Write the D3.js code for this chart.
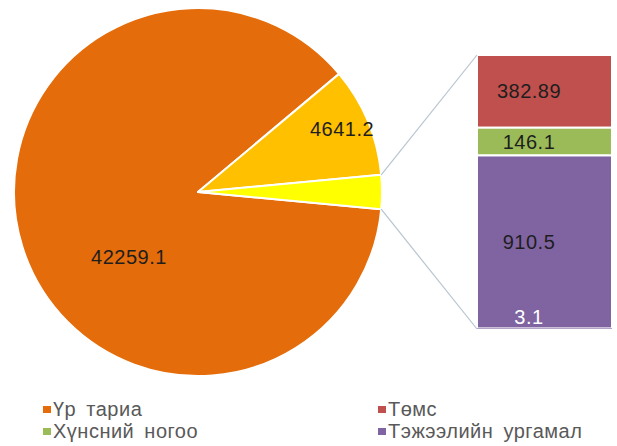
<!DOCTYPE html>
<html>
<head>
<meta charset="utf-8">
<script src="https://cdn.jsdelivr.net/npm/d3@7"></script>
<style>
  body { margin: 0; background: #fff; }
  text { font-family: "Liberation Sans", Arial, sans-serif; letter-spacing: 0.5px; }
</style>
</head>
<body>
<script>
// main pie: two big slices, the rest goes into "other"
var pieNames = ["Үр тариа", "other A", "other"];
var pieValues = [42259.1, 4641.2];
// secondary bar (the "other" slice split up)
var barNames = ["Төмс", "Хүнсний ногоо", "Тэжээлийн ургамал", "бусад"];
var barValues = [382.89, 146.1, 910.5, 3.1];
var legendNames = ["Үр тариа", "Төмс", "Хүнсний ногоо", "Тэжээлийн ургамал"];

var pieColors = ["#e46c0a", "#ffc000", "#ffff00"];
var barColors = ["#c0504d", "#9bbb59", "#8064a2", "#8064a2"];
var legendColors = ["#e46c0a", "#c0504d", "#9bbb59", "#8064a2"];

var width = 617, height = 446;
var cx = 198, cy = 192, r = 184;

var svg = d3.select("body").append("svg")
    .attr("width", width)
    .attr("height", height);

var otherTotal = d3.sum(barValues);
var slices = pieValues.concat([otherTotal]);
var total = d3.sum(slices);
var otherSpan = otherTotal / total * 2 * Math.PI;

// "other" slice centred on 3 o'clock
var pie = d3.pie()
    .sort(null)
    .startAngle(Math.PI / 2 + otherSpan / 2)
    .endAngle(Math.PI / 2 + otherSpan / 2 + 2 * Math.PI);

var arcs = pie(slices);
var arc = d3.arc().innerRadius(0).outerRadius(r);

var pieG = svg.append("g")
    .attr("transform", "translate(" + cx + "," + cy + ")");

pieG.selectAll("path")
    .data(arcs)
    .join("path")
    .attr("d", arc)
    .attr("fill", (d, i) => pieColors[i])
    .attr("stroke", "#fff")
    .attr("stroke-width", 2)
    .attr("stroke-linejoin", "round");

// pie labels
var pieLabelPos = [[-69, 65], [144, -63]];
pieG.selectAll("text.lab")
    .data(arcs.slice(0, 2))
    .join("text")
    .attr("class", "lab")
    .attr("x", (d, i) => pieLabelPos[i][0])
    .attr("y", (d, i) => pieLabelPos[i][1])
    .attr("text-anchor", "middle")
    .attr("dy", "0.35em")
    .attr("font-size", 20)
    .attr("fill", "#1e1e1e")
    .text(d => d3.format(".1f")(d.data));

// secondary stacked bar
var barX = 477, barW = 135;
var y = d3.scaleLinear()
    .domain([0, otherTotal])
    .range([55, 329]);

var cum = 0;
var segs = barValues.map(function (v, i) {
    var s = { name: barNames[i], value: v, y0: cum, y1: cum + v, i: i };
    cum += v;
    return s;
});

svg.append("g").selectAll("rect")
    .data(segs)
    .join("rect")
    .attr("x", barX)
    .attr("y", d => y(d.y0))
    .attr("width", barW)
    .attr("height", d => y(d.y1) - y(d.y0))
    .attr("fill", d => barColors[d.i])
    .attr("stroke", "#fff")
    .attr("stroke-width", d => d.i < 3 ? 2 : 0);

svg.append("g").selectAll("text")
    .data(segs)
    .join("text")
    .attr("x", barX + 52)
    .attr("y", d => d.i === 3 ? y(d.y0) - 11 : (y(d.y0) + y(d.y1)) / 2)
    .attr("dy", "0.35em")
    .attr("text-anchor", "middle")
    .attr("font-size", 20)
    .attr("fill", d => d.i === 3 ? "#fff" : "#1e1e1e")
    .text(d => d.value);

// connector lines from "other" slice to the bar
var o = arcs[2];
function edgePoint(a) {
    return [cx + r * Math.sin(a), cy - r * Math.cos(a)];
}
var p1 = edgePoint(o.startAngle), p2 = edgePoint(o.endAngle);
svg.append("line")
    .attr("x1", p1[0]).attr("y1", p1[1])
    .attr("x2", barX).attr("y2", y(0))
    .attr("stroke", "#b8c4cf").attr("stroke-width", 1.2);
svg.append("line")
    .attr("x1", p2[0]).attr("y1", p2[1])
    .attr("x2", barX).attr("y2", y(otherTotal))
    .attr("stroke", "#b8c4cf").attr("stroke-width", 1.2);

// legend, two columns
var legend = svg.append("g").selectAll("g")
    .data(legendNames)
    .join("g")
    .attr("transform", (d, i) => "translate(" + (i % 2 ? 388 : 53) + "," + (i < 2 ? 416 : 438) + ")");

legend.append("rect")
    .attr("x", -10).attr("y", -10)
    .attr("width", 8).attr("height", 7)
    .attr("fill", (d, i) => legendColors[i]);

legend.append("text")
    .attr("font-size", 20)
    .attr("fill", "#595959")
    .attr("word-spacing", 4)
    .text(d => d);
</script>
</body>
</html>
